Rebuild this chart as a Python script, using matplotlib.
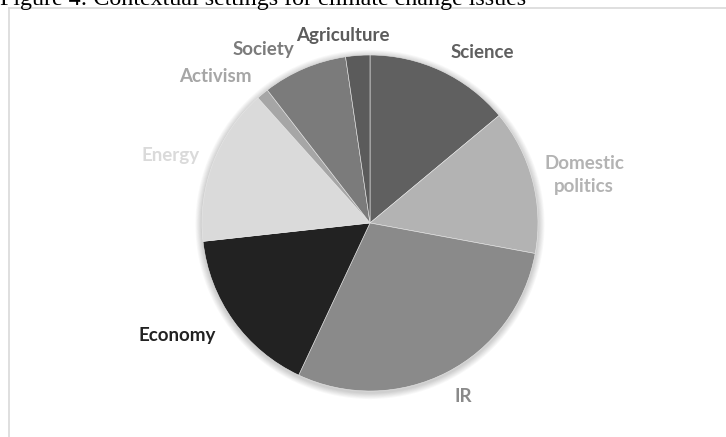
import matplotlib
matplotlib.use("Agg")
import matplotlib.pyplot as plt
from matplotlib.lines import Line2D
from matplotlib.patches import Circle

# issue counts per contextual setting, clockwise from 12 o'clock
settings = ["Science", "Domestic\npolitics", "IR", "Economy",
            "Energy", "Activism", "Society", "Agriculture"]
counts = [12, 12, 25, 14, 13, 1, 7, 2]
shades = ["#606060", "#b3b3b3", "#8a8a8a", "#222222",
          "#dadada", "#a6a6a6", "#7b7b7b", "#5b5b5b"]

# where each category name sits (canvas pixels, y downwards)
label_xy = [(482, 52), (584, 175), (463, 397), (177, 335),
            (171, 155), (215, 76), (263, 50), (343, 35)]

W, H = 726, 437
fig = plt.figure(figsize=(W / 100, H / 100), dpi=100)
ax = fig.add_axes([0, 0, 1, 1])

cx, cy, r = 370, H - 223, 168

# soft drop shadow under the pie
for k in range(8):
    ax.add_patch(Circle((cx, cy - 1.5), r + 1 + k * 0.8, color="black",
                        alpha=0.025, lw=0, zorder=1))

wedges, _ = ax.pie(counts, colors=shades, startangle=90, counterclock=False,
                   center=(cx, cy), radius=r, frame=True,
                   wedgeprops=dict(edgecolor="#e8e8e8", linewidth=0.4))
for w in wedges:
    w.set_zorder(3)
ax.set_xlim(0, W)
ax.set_ylim(0, H)
ax.set_aspect("equal")
ax.axis("off")

for name, col, (lx, ly) in zip(settings, shades, label_xy):
    ax.text(lx, H - ly, name, ha="center", va="center", color=col,
            fontsize=13.5, fontweight="bold", family="Lato",
            linespacing=1.42, zorder=4)

# chart frame (only top and left edges fall inside the canvas)
fig.add_artist(Line2D([8.5 / W, 1], [1 - 7.5 / H, 1 - 7.5 / H],
                      transform=fig.transFigure, color="#d9d9d9", lw=1.2))
fig.add_artist(Line2D([8.5 / W, 8.5 / W], [0, 1 - 7.5 / H],
                      transform=fig.transFigure, color="#d9d9d9", lw=1.2))

fig.text(0, 1 - 4.5 / H, "Figure 4: Contextual settings for climate change issues",
         ha="left", va="baseline", fontsize=17.3, family="Liberation Serif",
         color="black")

fig.savefig("out.png", dpi=100)
